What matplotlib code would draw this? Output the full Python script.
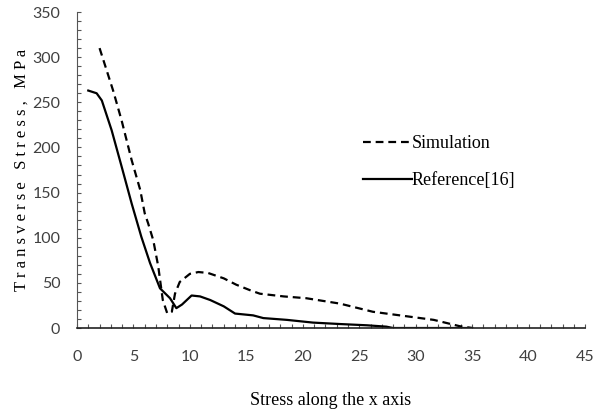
import matplotlib
matplotlib.use('Agg')
import matplotlib.pyplot as plt
from matplotlib.ticker import MultipleLocator

# Simulation (dashed)
sim_x = [2.0, 3.2, 3.95, 4.84, 5.6, 6.0, 6.3, 6.76, 7.2, 7.6, 8.0, 8.4, 8.68, 9.1,
         10.0, 10.75, 11.6, 13.0, 14.1, 15.3, 16.2, 18.3, 20.3, 23.3, 26.2, 28.6,
         31.6, 33.9, 35.0]
sim_y = [310, 263, 230, 186, 153, 127, 116, 97, 68, 31, 16, 18, 38, 51,
         60, 62, 61, 55, 48, 42, 38, 35, 33, 27, 18, 14,
         9, 2, 0]

# Reference [16] (solid)
ref_x = [1.0, 1.74, 2.2, 3.07, 3.95, 4.84, 5.7, 6.47, 7.35, 8.24, 8.8, 9.3,
         10.15, 10.9, 11.8, 13.0, 14.0, 15.6, 16.5, 18.6, 20.9, 23.3, 25.7,
         27.4, 28.0, 30.0, 35.0]
ref_y = [263, 260, 252, 219, 179, 138, 101, 72, 44, 33, 22, 26,
         36, 35, 31, 24, 16, 14, 11, 9, 6, 4.4, 3,
         1.5, 0, 0, 0]

fig = plt.figure(figsize=(5.94, 4.17), dpi=100)
ax = fig.add_axes([0.1296, 0.2134, 0.8554, 0.7578])

ax.plot(sim_x, sim_y, color='black', lw=1.6, ls=(0, (3.5, 2.2)), label='Simulation')
ax.plot(ref_x, ref_y, color='black', lw=1.6, ls='-', label='Reference[16]')

ax.set_xlim(0, 45)
ax.set_ylim(0, 350)
ax.xaxis.set_major_locator(MultipleLocator(5))
ax.xaxis.set_minor_locator(MultipleLocator(1))
ax.yaxis.set_major_locator(MultipleLocator(50))
ax.yaxis.set_minor_locator(MultipleLocator(10))
ax.tick_params(which='both', direction='in', length=3, width=0.8, color='#555555')
ax.tick_params(which='major', labelsize=11.5, labelcolor='#404040')
ax.tick_params(axis='x', which='major', pad=16)
ax.tick_params(axis='y', which='major', pad=12)

for lab in ax.get_xticklabels() + ax.get_yticklabels():
    lab.set_fontfamily('Lato')

ax.spines['top'].set_visible(False)
ax.spines['right'].set_visible(False)
ax.spines['left'].set_color('#555555')
ax.spines['bottom'].set_color('#222222')
ax.spines['bottom'].set_linewidth(1.2)

ax.set_xlabel('Stress along the x axis', family='Liberation Serif', fontsize=13, labelpad=20)
ax.set_ylabel('T r a n s v e r s e   S t r e s s ,   M P a', family='Liberation Serif',
              fontsize=12, labelpad=2)

leg = ax.legend(loc='center left', bbox_to_anchor=(0.563, 0.524), frameon=False,
                borderpad=0, borderaxespad=0,
                prop={'family': 'Liberation Serif', 'size': 13},
                handlelength=2.7, handletextpad=0.0, labelspacing=1.1)

fig.savefig('out.png', dpi=100)
